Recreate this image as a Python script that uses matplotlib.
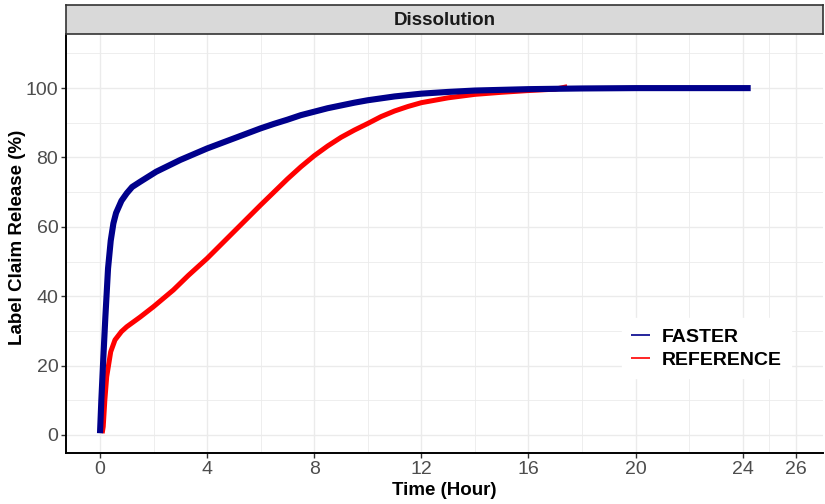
import matplotlib
import matplotlib.pyplot as plt
from matplotlib.ticker import MultipleLocator, FixedLocator

matplotlib.use('agg')
plt.rcParams['font.family'] = ['Liberation Sans', 'DejaVu Sans']

# dissolution profiles
t_faster = [0, 0.05, 0.12, 0.2, 0.25, 0.3, 0.4, 0.5, 0.6, 0.8, 1.0, 1.2, 1.5, 2.1, 3, 4, 5,
            6, 6.5, 7, 7.5, 8, 8.5, 9, 9.5, 10, 11, 12, 13, 14, 16, 18, 20, 22, 24.3]
faster = [0.5, 10, 21.6, 34, 41, 48, 56, 61, 64, 67.5, 69.7, 71.5, 73, 75.9, 79.3, 82.6, 85.5,
          88.4, 89.7, 90.9, 92.2, 93.2, 94.2, 95.0, 95.8, 96.5, 97.6, 98.4, 98.9, 99.3, 99.7,
          99.9, 100, 100, 100]

t_reference = [0.08, 0.12, 0.18, 0.25, 0.4, 0.56, 0.8, 1.0, 1.5, 2.0, 2.74, 3.3, 4, 5, 6,
               7.0, 7.5, 8, 8.5, 9, 9.5, 10, 10.5, 11, 11.5, 12, 13, 14, 15, 16, 17, 17.45]
reference = [0.5, 2.4, 10, 16.8, 24, 27.4, 29.8, 31.2, 34, 37, 41.8, 46, 50.9, 58.6, 66.3,
             73.8, 77.3, 80.5, 83.3, 85.8, 87.9, 89.8, 91.8, 93.4, 94.7, 95.8, 97.2, 98.2,
             98.8, 99.3, 99.7, 100.4]

x_ticks = [0, 4, 8, 12, 16, 20, 24, 26]
x_minor = [2, 6, 10, 14, 18, 22, 25]

fig = plt.figure(figsize=(8.25, 5.04), dpi=100)
ax = fig.add_axes([66 / 825, 1 - 453 / 504, 757 / 825, 419 / 504])

ax.plot(t_reference, reference, color='#FF0000', lw=3.6, solid_capstyle='butt',
        solid_joinstyle='round', label='REFERENCE', zorder=3)
ax.plot(t_faster, faster, color='#00008B', lw=4.4, solid_capstyle='butt',
        solid_joinstyle='round', label='FASTER', zorder=4)

ax.set_xlim(-1.27, 27.0)
ax.set_ylim(-5.2, 115.6)
ax.xaxis.set_major_locator(FixedLocator(x_ticks))
ax.xaxis.set_minor_locator(FixedLocator(x_minor))
ax.yaxis.set_major_locator(MultipleLocator(20))
ax.yaxis.set_minor_locator(FixedLocator([10, 30, 50, 70, 90, 110]))
ax.grid(which='major', color='#EBEBEB', lw=1.0)
ax.grid(which='minor', color='#EBEBEB', lw=0.6)
ax.set_axisbelow(True)

for s in ['top', 'right']:
    ax.spines[s].set_visible(False)
for s in ['left', 'bottom']:
    ax.spines[s].set_color('black')
    ax.spines[s].set_linewidth(1.4)

ax.tick_params(which='major', length=3.5, width=1, color='#333333', labelsize=14,
               labelcolor='#4D4D4D', pad=2)
ax.tick_params(which='minor', length=0)

ax.set_xlabel('Time (Hour)', fontsize=13.5, fontweight='bold', labelpad=3)
ax.set_ylabel('Label Claim Release (%)', fontsize=13.5, fontweight='bold')
ax.yaxis.label.set_verticalalignment('center')
ax.yaxis.set_label_coords(-0.064, 0.515)

# facet strip
strip = fig.add_axes([66 / 825, 1 - 34 / 504, 757 / 825, 29 / 504])
strip.set_facecolor('#D9D9D9')
strip.set_xticks([])
strip.set_yticks([])
for s in strip.spines.values():
    s.set_color('#333333')
    s.set_linewidth(1.2)
strip.text(0.5, 0.47, 'Dissolution', ha='center', va='center', fontsize=13.5,
           fontweight='bold', color='#1A1A1A', transform=strip.transAxes)

handles, labels = ax.get_legend_handles_labels()
order = [1, 0]
leg = ax.legend([handles[i] for i in order], [labels[i] for i in order],
                loc='center', bbox_to_anchor=(0.846, 0.25), frameon=True,
                fancybox=False, edgecolor='white', framealpha=1,
                prop={'weight': 'bold', 'size': 14}, handlelength=0.95,
                handletextpad=0.6, labelspacing=0.28, borderpad=0.5)
for h in leg.get_lines():
    h.set_linewidth(1.2)

fig.savefig('out.png', dpi=100)
